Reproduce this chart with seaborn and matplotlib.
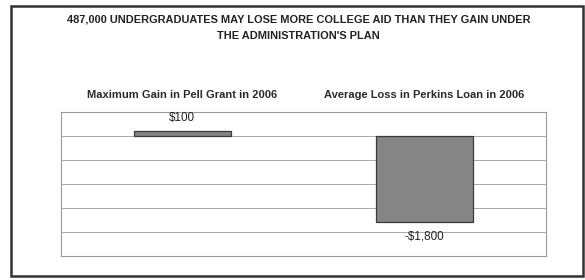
import numpy as np
import pandas as pd
import seaborn as sns
import matplotlib
import matplotlib.pyplot as plt
from matplotlib.patches import Rectangle

matplotlib.use('Agg')
sns.set_style("white")
plt.rcParams['font.family'] = ['Liberation Sans', 'DejaVu Sans']

categories = ["Maximum Gain in Pell Grant in 2006", "Average Loss in Perkins Loan in 2006"]
values = [100, -1800]
value_labels = ["$100", "-$1,800"]
title = "487,000 UNDERGRADUATES MAY LOSE MORE COLLEGE AID THAN THEY GAIN UNDER\nTHE ADMINISTRATION'S PLAN"

df = pd.DataFrame({"category": categories, "value": values})

fig = plt.figure(figsize=(5.85, 2.8), dpi=100)
ax = fig.add_axes([0.104, 0.086, 0.829, 0.514])

sns.barplot(data=df, x="category", y="value", ax=ax, color="#858585",
            width=0.4, edgecolor="#3a3a3a", linewidth=0.9, saturation=1, zorder=3)

ax.set_ylim(-2500, 500)
ax.set_yticks(np.arange(-2500, 501, 500))
ax.set_yticklabels([])
ax.tick_params(axis='y', length=0)
ax.grid(axis='y', color="#a8a8a8", linewidth=0.7, zorder=0)
for s in ax.spines.values():
    s.set_color("#999999")
    s.set_linewidth(0.8)

ax.xaxis.tick_top()
ax.tick_params(axis='x', length=0, pad=8.5, labelsize=8.0)
for t in ax.get_xticklabels():
    t.set_fontweight('bold')
    t.set_color("#2a2a2a")
ax.set_xlabel("")
ax.set_ylabel("")

for i, (v, lab) in enumerate(zip(values, value_labels)):
    if v >= 0:
        ax.text(i, v + 150, lab, ha='center', va='bottom', fontsize=8.4, color="#222222")
    else:
        ax.text(i, v - 170, lab, ha='center', va='top', fontsize=8.4, color="#222222")

fig.text(0.51, 0.948, title, ha='center', va='top', fontsize=7.9,
         fontweight='bold', color="#222222", linespacing=1.75)

fig.patches.append(Rectangle((0.018, 0.015), 0.978, 0.965, transform=fig.transFigure,
                             fill=False, edgecolor="#333333", linewidth=1.8))

fig.savefig("out.png", dpi=100)
